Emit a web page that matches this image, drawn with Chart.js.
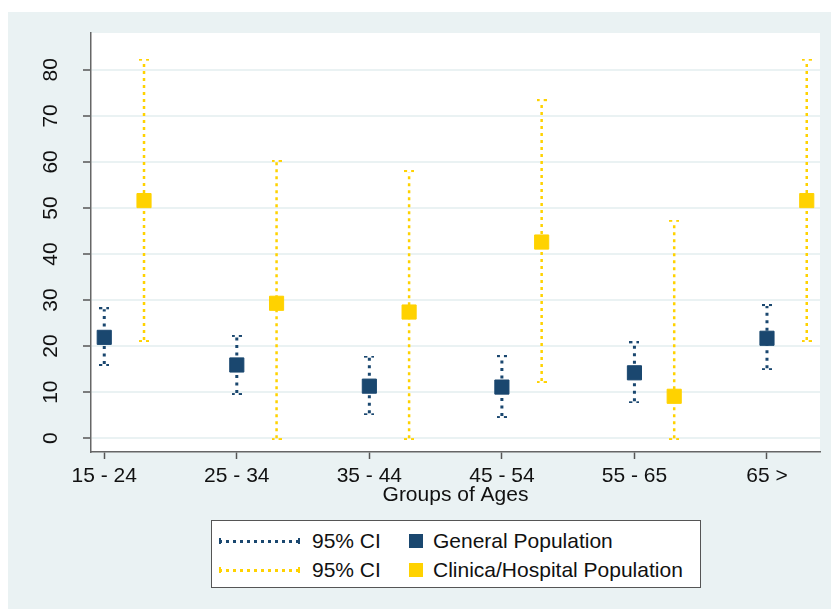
<!DOCTYPE html>
<html>
<head>
<meta charset="utf-8">
<script src="https://cdn.jsdelivr.net/npm/chart.js@4.4.1/dist/chart.umd.min.js"></script>
<style>
  body { margin: 0; background: #fff; width: 831px; height: 609px; overflow: hidden; position: relative; font-family: "Liberation Sans", Arial, sans-serif; }
  #wrap { position: absolute; left: 8px; top: 12px; width: 823px; height: 597px; background: #EAF2F3; }
  #legend { position: absolute; left: 211px; top: 520px; width: 488px; height: 66px; background: #fff; border: 1px solid #555; }
  .txt { position: absolute; font-size: 21px; line-height: 24px; color: #111; white-space: nowrap; }
  .swatch { position: absolute; width: 14px; height: 14px; }
  .dots { position: absolute; width: 80px; height: 2.5px; }
  .end { position: absolute; width: 2px; height: 6px; }
</style>
</head>
<body>
<div id="wrap"><canvas id="grafico" width="823" height="597"></canvas></div>

<div id="legend"></div>
<div class="dots" style="left:219px; top:540px; background: repeating-linear-gradient(90deg, #1A476F 0 3px, transparent 3px 7px);"></div>
<div class="end" style="left:219px; top:538px; background:#1A476F;"></div>
<div class="end" style="left:298px; top:538px; background:#1A476F;"></div>
<div class="txt" style="left:312px; top:529px;">95% CI</div>
<div class="swatch" style="left:409px; top:534px; background:#1A476F;"></div>
<div class="txt" style="left:433px; top:529px;">General Population</div>

<div class="dots" style="left:219px; top:569px; background: repeating-linear-gradient(90deg, #FFD200 0 3px, transparent 3px 7px);"></div>
<div class="end" style="left:219px; top:567px; background:#FFD200;"></div>
<div class="end" style="left:298px; top:567px; background:#FFD200;"></div>
<div class="txt" style="left:312px; top:558px;">95% CI</div>
<div class="swatch" style="left:409px; top:563px; background:#FFD200;"></div>
<div class="txt" style="left:433px; top:558px;">Clinica/Hospital Population</div>

<script>
const categorias = ['15 - 24', '25 - 34', '35 - 44', '45 - 54', '55 - 65', '65 >'];
const geralMedia = [21.9, 15.9, 11.3, 11.1, 14.2, 21.7];
const geralMin = [16.1, 9.8, 5.4, 4.8, 8.0, 15.2];
const geralMax = [28.0, 22.0, 17.5, 17.6, 20.6, 28.7];
const clinicaMedia = [51.6, 29.3, 27.4, 42.6, 9.1, 51.6];
const clinicaMin = [21.3, 0, 0, 12.4, 0, 21.3];
const clinicaMax = [82.0, 60.0, 57.8, 73.2, 47.0, 82.0];
const yTicks = [0, 10, 20, 30, 40, 50, 60, 70, 80];

const azul = '#1A476F';
const amarelo = '#FFD200';
const deslocamento = 0.3;

// pequena "tampa" pontilhada nas pontas do intervalo
const tampa = (cor) => {
    const c = document.createElement('canvas');
    c.width = 10; c.height = 4;
    const g = c.getContext('2d');
    g.fillStyle = cor;
    g.fillRect(0, 0, 3, 2);
    g.fillRect(7, 0, 3, 2);
    return c;
};

const intervalo = (min, max, dx) => {
    const pts = [];
    min.forEach((v, i) => {
        pts.push({ x: i + 1 + dx, y: v });
        pts.push({ x: i + 1 + dx, y: max[i] });
        pts.push({ x: i + 1 + dx, y: null });
    });
    return pts;
};
const medias = (arr, dx) => arr.map((v, i) => ({ x: i + 1 + dx, y: v }));

const ctx = document.getElementById('grafico').getContext('2d');
const grafico = new Chart(ctx, {
    data: {
        datasets: [
            {
                type: 'scatter',
                data: medias(geralMedia, 0),
                backgroundColor: azul,
                borderColor: azul,
                pointStyle: 'rect',
                pointRadius: 10,
                borderWidth: 1
            },
            {
                type: 'scatter',
                data: medias(clinicaMedia, deslocamento),
                backgroundColor: amarelo,
                borderColor: amarelo,
                pointStyle: 'rect',
                pointRadius: 10,
                borderWidth: 1
            },
            {
                type: 'line',
                data: intervalo(geralMin, geralMax, 0),
                borderColor: azul,
                borderWidth: 3,
                borderDash: [3, 4.5],
                spanGaps: false,
                pointStyle: tampa(azul),
                pointRotation: (c) => c.dataIndex % 3 === 0 ? 180 : 0
            },
            {
                type: 'line',
                data: intervalo(clinicaMin, clinicaMax, deslocamento),
                borderColor: amarelo,
                borderWidth: 2.5,
                borderDash: [3, 4],
                spanGaps: false,
                pointStyle: tampa(amarelo),
                pointRotation: (c) => c.dataIndex % 3 === 0 ? 180 : 0
            }
        ]
    },
    options: {
        responsive: false,
        animation: false,
        layout: { padding: { left: 0, top: 21, right: 9, bottom: 97 } },
        plugins: {
            legend: { display: false },
            tooltip: { enabled: false }
        },
        scales: {
            x: {
                type: 'linear',
                min: 0.9,
                max: 6.4,
                afterBuildTicks: (s) => { s.ticks = categorias.map((c, i) => ({ value: i + 1 })); },
                afterFit: (s) => { s.height = 60; s.paddingLeft = 0; s.paddingRight = 0; },
                ticks: {
                    callback: (v) => categorias[v - 1],
                    color: '#111',
                    font: { family: 'Liberation Sans', size: 21 },
                    padding: 5,
                    maxRotation: 0,
                    autoSkip: false
                },
                grid: { drawOnChartArea: false, tickLength: 7, tickColor: '#555', tickWidth: 1.5 },
                border: { color: '#666', width: 1.5 },
                title: {
                    display: true,
                    text: 'Groups of Ages',
                    color: '#111',
                    font: { family: 'Liberation Sans', size: 21 },
                    padding: { top: 0, bottom: 4 }
                }
            },
            y: {
                min: -3,
                max: 88,
                afterBuildTicks: (s) => { s.ticks = yTicks.map(v => ({ value: v })); },
                afterFit: (s) => { s.width = 83; s.paddingTop = 0; s.paddingBottom = 0; },
                ticks: {
                    color: '#111',
                    font: { family: 'Liberation Sans', size: 21 },
                    minRotation: 90,
                    maxRotation: 90,
                    crossAlign: 'center',
                    padding: 20
                },
                grid: { color: '#EAF2F3', lineWidth: 2, tickLength: 8, tickColor: '#555', tickWidth: 1.5 },
                border: { color: '#666', width: 1.5 }
            }
        }
    },
    plugins: [{
        id: 'fundoBranco',
        beforeDraw: (chart) => {
            const a = chart.chartArea;
            chart.ctx.save();
            chart.ctx.fillStyle = '#fff';
            chart.ctx.fillRect(a.left, a.top, a.right - a.left, a.bottom - a.top);
            chart.ctx.restore();
        }
    }]
});
</script>
</body>
</html>
